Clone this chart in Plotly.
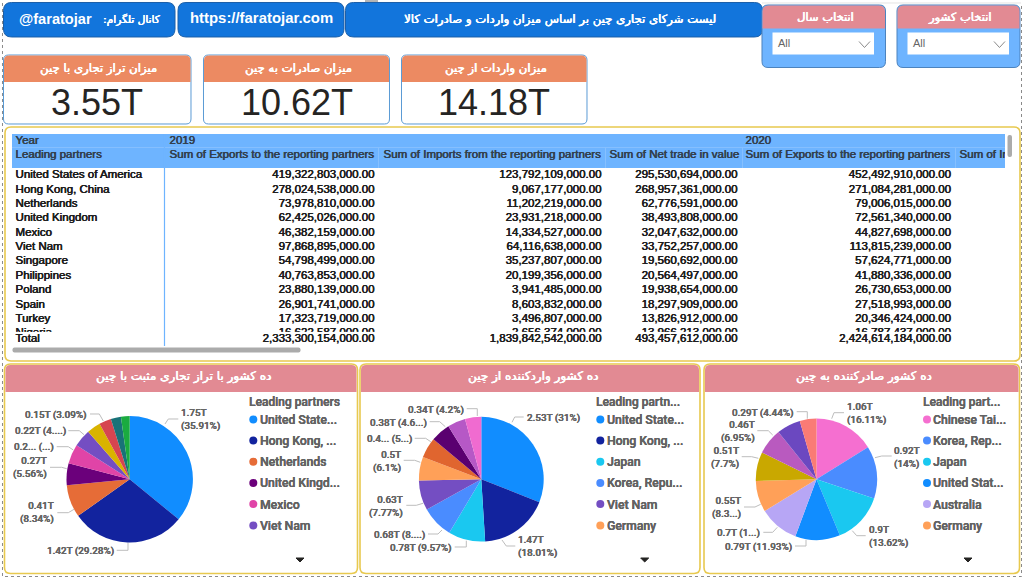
import plotly.graph_objects as go

# ---------- data ----------
years = ["2019", "2020"]
partners = ["United States of America", "Hong Kong, China", "Netherlands", "United Kingdom", "Mexico",
            "Viet Nam", "Singapore", "Philippines", "Poland", "Spain", "Turkey", "Nigeria"]
exports_2019 = ["419,322,803,000.00", "278,024,538,000.00", "73,978,810,000.00", "62,425,026,000.00",
                "46,382,159,000.00", "97,868,895,000.00", "54,798,499,000.00", "40,763,853,000.00",
                "23,880,139,000.00", "26,901,741,000.00", "17,323,719,000.00", "16,622,587,000.00"]
imports_2019 = ["123,792,109,000.00", "9,067,177,000.00", "11,202,219,000.00", "23,931,218,000.00",
                "14,334,527,000.00", "64,116,638,000.00", "35,237,807,000.00", "20,199,356,000.00",
                "3,941,485,000.00", "8,603,832,000.00", "3,496,807,000.00", "2,656,374,000.00"]
net_2019 = ["295,530,694,000.00", "268,957,361,000.00", "62,776,591,000.00", "38,493,808,000.00",
            "32,047,632,000.00", "33,752,257,000.00", "19,560,692,000.00", "20,564,497,000.00",
            "19,938,654,000.00", "18,297,909,000.00", "13,826,912,000.00", "13,966,213,000.00"]
exports_2020 = ["452,492,910,000.00", "271,084,281,000.00", "79,006,015,000.00", "72,561,340,000.00",
                "44,827,698,000.00", "113,815,239,000.00", "57,624,771,000.00", "41,880,336,000.00",
                "26,730,653,000.00", "27,518,993,000.00", "20,346,424,000.00", "16,787,437,000.00"]
totals = ["2,333,300,154,000.00", "1,839,842,542,000.00", "493,457,612,000.00", "2,424,614,184,000.00"]
col_heads = ["Sum of Exports to the reporting partners", "Sum of Imports from the reporting partners",
             "Sum of Net trade in value", "Sum of Exports to the reporting partners", "Sum of Im"]

kpi_values = ["3.55T", "10.62T", "14.18T"]
kpi_titles = ["میزان تراز تجاری با چین", "میزان صادرات به چین", "میزان واردات از چین"]

net_names = ["United States of America", "Hong Kong, China", "Netherlands", "United Kingdom", "Mexico",
             "Viet Nam", "Singapore", "Philippines", "Poland", "Spain"]
net_share = [35.91, 29.28, 8.34, 5.56, 5.0, 4.5, 3.5, 3.09, 2.6, 2.22]
imp_names = ["United States of America", "Hong Kong, China", "Japan", "Korea, Republic of", "Viet Nam",
             "Germany", "Netherlands", "United Kingdom", "India", "Singapore"]
imp_share = [31.0, 18.01, 9.57, 8.33, 7.77, 6.1, 5.3, 5.06, 4.66, 4.2]
exp_names = ["Chinese Taipei", "Korea, Republic of", "Japan", "United States of America", "Australia",
             "Germany", "Brazil", "Malaysia", "Viet Nam", "Russian Federation"]
exp_share = [16.11, 14.0, 13.62, 11.93, 10.6, 8.3, 7.7, 6.95, 6.35, 4.44]

net_colors = ["#118DFF", "#12239E", "#E66C37", "#6B007B", "#E044A7", "#744EC2", "#D9B300", "#D64550", "#197278", "#1AAB40"]
imp_colors = ["#118DFF", "#12239E", "#1AC8F0", "#4A8CFF", "#744EC2", "#FFA058", "#E0652F", "#5A0070", "#B658C6", "#F06BD0"]
exp_colors = ["#F56FD0", "#4A8CFF", "#1AC8F0", "#118DFF", "#B7A6F5", "#FFA058", "#C9A800", "#B95ABF", "#6B48C0", "#FA7B75"]

net_legend = ["United State...", "Hong Kong, ...", "Netherlands", "United Kingd...", "Mexico", "Viet Nam"]
imp_legend = ["United State...", "Hong Kong, ...", "Japan", "Korea, Repu...", "Viet Nam", "Germany"]
exp_legend = ["Chinese Tai...", "Korea, Rep...", "Japan", "United Stat...", "Australia", "Germany"]

# ---------- layout helpers ----------
W, H = 1024, 580
AR = "DejaVu Sans"
LAT = "Liberation Sans"
UI = "Roboto"
def X(p): return p / W
def Y(p): return 1 - p / H
shapes, annots = [], []

def faux(color, dx=0.35):
    return f"{dx}px 0 0 {color}, -{dx / 2}px 0 0.2px {color}"

def rrect(x0, y0, x1, y1, r, fill, line=None, lw=1, corners="tl tr br bl"):
    c = corners.split()
    rt = lambda k: r if k in c else 0
    a, b, e, d = rt("tl"), rt("tr"), rt("br"), rt("bl")
    P = lambda x, y: f"{X(x):.5f},{Y(y):.5f}"
    path = (f"M{P(x0 + a, y0)} L{P(x1 - b, y0)} Q{P(x1, y0)} {P(x1, y0 + b)} L{P(x1, y1 - e)} "
            f"Q{P(x1, y1)} {P(x1 - e, y1)} L{P(x0 + d, y1)} Q{P(x0, y1)} {P(x0, y1 - d)} "
            f"L{P(x0, y0 + a)} Q{P(x0, y0)} {P(x0 + a, y0)} Z")
    shapes.append(dict(type="path", xref="paper", yref="paper", path=path, fillcolor=fill,
                       line=dict(color=line or "rgba(0,0,0,0)", width=lw if line else 0), layer="below"))

def rect(x0, y0, x1, y1, fill):
    shapes.append(dict(type="rect", xref="paper", yref="paper", x0=X(x0), x1=X(x1), y0=Y(y1), y1=Y(y0),
                       fillcolor=fill, line=dict(width=0), layer="below"))

def seg(pts, color="#BDBDBD", w=1, dash="solid"):
    path = "M" + " L".join(f"{X(a):.5f},{Y(b):.5f}" for a, b in pts)
    shapes.append(dict(type="path", xref="paper", yref="paper", path=path,
                       line=dict(color=color, width=w, dash=dash), layer="below"))

def txt(x, y, s, size, color="#FFFFFF", fam=AR, anchor="center", bold=False, align=None, w=None, shadow=None):
    f = dict(size=size, color=color, family=fam)
    if w: f["weight"] = w
    elif bold: f["weight"] = 700
    if shadow: f["shadow"] = shadow
    annots.append(dict(x=X(x), y=Y(y), xref="paper", yref="paper", text=s, showarrow=False, xanchor=anchor,
                       yanchor="middle", font=f, align=align or anchor, borderpad=0, borderwidth=0))

def ar(x, y, s, size, anchor="center"):
    txt(x, y, s, size, "#FFFFFF", AR, anchor, shadow=faux("#FFFFFF", 0.4))

# outer dotted frame and stub at the top
seg([(2.5, 3), (2.5, 576.5), (1021.5, 576.5), (1021.5, 3)], "#8A8A8A", 1, "dot")
seg([(762, 3), (1021, 3)], "#E4E4E4", 1)
rect(365, 0, 378, 2, "#B5B5B5")

# top buttons
BTN, BTN_L = "#1275DC", "#1B5FA8"
for x0, x1 in [(3.5, 175), (178, 344), (345.5, 762.5)]:
    rrect(x0, 2.5, x1, 37, 8, BTN, BTN_L, 1)
txt(19, 18.5, "@faratojar", 14.6, bold=True, fam=LAT, anchor="left")
ar(160.5, 19, ":کانال تلگرام", 10.6, "right")
txt(261.5, 18, "https://faratojar.com", 14.9, bold=True, fam=LAT)
ar(559.5, 19, "لیست شرکای تجاری چین بر اساس میزان واردات و صادرات کالا", 11.7)

# slicers
for x0, x1, t in [(762, 885.5, "انتخاب سال"), (897, 1020, "انتخاب کشور")]:
    rrect(x0, 5, x1, 67.5, 6, "#6EB4FF", "#4C83BE", 1)
    rrect(x0 + .5, 5.5, x1 - .5, 28.5, 6, "#E28A93", None, corners="tl tr")
    rect(x0 + 10.5, 32.5, x0 + 112, 54.5, "#FFFFFF")
    ar((x0 + x1) / 2 + 1.5, 17, t, 11.5)
    txt(x0 + 15.5, 43.5, "All", 11, "#666666", LAT, "left")
    seg([(x0 + 97, 41.5), (x0 + 102.5, 47.5), (x0 + 108, 41.5)], "#8A8A8A", 1)

# KPI cards
for (x0, x1), t, v in zip([(3.5, 191), (203.5, 389.5), (401.5, 587)], kpi_titles, kpi_values):
    rrect(x0, 55, x1, 124, 5, "#FFFFFF", "#5B9BD5", 1)
    rrect(x0 + .5, 55.5, x1 - .5, 82, 5, "#EC8A62", None, corners="tl tr")
    ar((x0 + x1) / 2 + 1.5, 68.5, t, 11.7)
    txt((x0 + x1) / 2, 103, v, 36, "#252423", LAT)

# table frame and header
rrect(5, 127, 1020, 361, 6, "#FFFFFF", "#E8C94F", 1.6)
rect(12, 134, 1005, 168, "#6EB4FF")
seg([(12, 147.5), (1005, 147.5)], "#86C0FF", 1)
seg([(164.5, 134), (164.5, 346)], "#6EB4FF", 1.2)
for dx in [378.5, 605.5, 742.5, 955.5]:
    seg([(dx, 147.5), (dx, 168)], "#86C0FF", 1)
rrect(12.5, 347.5, 300.5, 352.5, 2, "#ABABAB")
rrect(1007.5, 135, 1012, 157, 2, "#ABABAB")

# dashboard panels
panels = [(4.5, 357.5, "ده کشور با تراز تجاری مثبت با چین"),
          (360, 700, "ده کشور واردکننده از چین"),
          (704, 1019.5, "ده کشور صادرکننده به چین")]
for x0, x1, t in panels:
    rrect(x0, 364, x1, 573.5, 6, "#FFFFFF", "#E8C94F", 1.6)
    rrect(x0 + 1, 365, x1 - 1, 392, 5, "#E28A93", None, corners="tl tr")
    ar((x0 + x1) / 2 + 2.5, 376, t, 12)

fig = go.Figure()

# table as text traces, clipped by their own axes
col_left = [169.5, 383.5, 609.5, 745.5, 959.5]
col_right = [374.5, 601.5, 737.5, 951]
row_pitch = 14.37
row_first = 175.4
rows = [row_first + i * row_pitch for i in range(len(partners))]
T_FONT = dict(family=LAT, size=11.5, color="#1E1E1E", shadow=faux("#1E1E1E"))
H_FONT = dict(family=LAT, size=11.5, color="#33414F", shadow=faux("#33414F"))

def ttrace(x, y, t, pos, yax, font):
    fig.add_trace(go.Scatter(x=x, y=y, text=t, mode="text", textposition=pos, textfont=font,
                             hoverinfo="skip", showlegend=False, cliponaxis=True, xaxis="x", yaxis=yax))

ttrace([15.5] * len(partners), rows, partners, "middle right", "y", T_FONT)
for xr, col in zip(col_right, [exports_2019, imports_2019, net_2019, exports_2020]):
    ttrace([xr] * len(col), rows, col, "middle left", "y", T_FONT)
ttrace([15.5, col_left[0], col_left[3]], [141.6] * 3, ["Year"] + years, "middle right", "y2", H_FONT)
ttrace([15.5] + col_left, [155] * 6, ["Leading partners"] + col_heads, "middle right", "y2", H_FONT)
ttrace([15.5], [339.3], ["Total"], "middle right", "y3", T_FONT)
ttrace(col_right, [339.3] * 4, totals, "middle left", "y3", T_FONT)

# pies
pies = [
    (129.7, 479.3, 63.2, net_names, net_share, net_colors),
    (481.3, 479.2, 62.4, imp_names, imp_share, imp_colors),
    (816.5, 479.3, 60.7, exp_names, exp_share, exp_colors),
]
for cx, cy, r, names, vals, cols in pies:
    fig.add_trace(go.Pie(labels=names, values=vals, sort=False, direction="clockwise", rotation=0,
                         textinfo="none", hoverinfo="label+percent", showlegend=False,
                         marker=dict(colors=cols, line=dict(width=0)),
                         domain=dict(x=[X(cx - r), X(cx + r)], y=[Y(cy + r), Y(cy - r)])))

# legends
legends = [
    (248.7, 253.3, 259.7, "Leading partners", net_legend, net_colors, 300),
    (595.7, 600.3, 606.7, "Leading partn...", imp_legend, imp_colors, 644.7),
    (922.7, 927, 933.3, "Leading part...", exp_legend, exp_colors, 968),
]
leg_rows = [419.9, 441, 462.2, 483.3, 504.5, 525.8]
GREY = "#636363"
for xt, xm, xl, title, items, cols, xa in legends:
    txt(xt, 401.8, title, 12, GREY, UI, "left", w=500, shadow=faux(GREY, 0.15))
    for ly, it, c in zip(leg_rows, items, cols):
        shapes.append(dict(type="circle", xref="paper", yref="paper", x0=X(xm - 4), x1=X(xm + 4),
                           y0=Y(ly + 3.6), y1=Y(ly - 4.4), fillcolor=c, line=dict(width=0), layer="below"))
        txt(xl, ly, it, 12.2, GREY, UI, "left", w=500, shadow=faux(GREY, 0.15))
    seg([(xa - 4, 558), (xa + 4, 558), (xa, 562), (xa - 4, 558)], "#252423", 1)
    shapes[-1]["fillcolor"] = "#252423"

# pie data labels: (text, anchor, x, y, leader points)
pie_labels = [
    ("1.75T<br>(35.91%)", "left", 181, 419.8, [(165, 424), (168.3, 419), (178.3, 419)]),
    ("0.15T (3.09%)", "right", 87, 415, [(90, 414), (99.3, 414), (103.3, 421)]),
    ("0.22T (4....)", "right", 66, 431, [(68.3, 430.7), (79.3, 430.7), (84, 434.7)]),
    ("0.2... (...)", "right", 54, 447.3, [(56.7, 446.7), (68.3, 446.7), (73.3, 450)]),
    ("0.27T<br>(5.56%)", "right", 47.3, 468, [(50, 467.3), (61.7, 467.3), (66.7, 468.7)]),
    ("0.41T<br>(8.34%)", "right", 54.3, 512.7, [(57.3, 512.7), (68.3, 512.7), (74, 509.3)]),
    ("1.42T (29.28%)", "right", 114, 550.7, [(116.7, 550.3), (128, 550.3), (128, 542.7)]),
    ("2.53T (31%)", "left", 527, 418, [(512, 422.3), (514.7, 417), (523.7, 417)]),
    ("1.47T<br>(18.01%)", "left", 518.3, 546.2, [(502, 540), (506.3, 546), (515.3, 546)]),
    ("0.78T (9.57%)", "right", 451.7, 548, [(454.7, 547), (466.3, 547), (466.3, 540.7)]),
    ("0.68T (8....)", "right", 424.7, 535, [(428, 534), (438, 534), (442, 530)]),
    ("0.63T<br>(7.77%)", "right", 403, 506, [(406.3, 505.3), (416.3, 505.3), (423, 503.3)]),
    ("0.5T<br>(6.1%)", "right", 401, 461.4, [(403.7, 460.3), (414.7, 460.3), (420.3, 462.3)]),
    ("0.4... (5...)", "right", 412, 438.7, [(414.7, 438.3), (425.7, 438.3), (430.7, 441.7)]),
    ("0.38T (4.6...)", "right", 427.3, 422.7, [(429.7, 421.7), (439.7, 421.7), (445.3, 426.7)]),
    ("0.34T (4.2%)", "right", 463.7, 409.7, [(466.7, 408.7), (477.3, 408.7), (477.3, 416)]),
    ("1.06T<br>(16.11%)", "left", 846.7, 413.7, [(831.7, 418.7), (834, 412.7), (844, 412.7)]),
    ("0.92T<br>(14%)", "left", 894, 457.2, [(875, 457.7), (881.7, 456), (891.7, 456)]),
    ("0.9T<br>(13.62%)", "left", 868.7, 536.4, [(852.3, 530.7), (856.7, 535.7), (865.7, 535.7)]),
    ("0.79T (11.93%)", "right", 792, 547.3, [(795, 546), (806, 546), (806, 540)]),
    ("0.7T (1...)", "right", 760, 533.3, [(763.3, 532.3), (772.7, 532.3), (777.3, 527.3)]),
    ("0.55T<br>(8.3...)", "right", 741, 507.5, [(744, 507), (755, 507), (760.7, 504.3)]),
    ("0.51T<br>(7.7%)", "right", 739, 457.2, [(741.7, 456.7), (751.7, 456.7), (758.3, 458.3)]),
    ("0.46T<br>(6.95%)", "right", 755.3, 431.7, [(757.3, 430.7), (768.3, 430.7), (772.7, 435)]),
    ("0.29T (4.44%)", "right", 794, 412.7, [(796.7, 411.7), (807.3, 411.7), (807.3, 418.7)]),
]
for s, anc, x, y, pts in pie_labels:
    txt(x, y, s, 9.9, "#666666", UI, anc, w=500, shadow=faux("#666666", 0.12))
    seg(pts, "#BDBDBD", 1)

fig.update_layout(
    width=W, height=H, margin=dict(l=0, r=0, t=0, b=0), autosize=False,
    paper_bgcolor="#FFFFFF", plot_bgcolor="rgba(0,0,0,0)", showlegend=False,
    shapes=shapes, annotations=annots,
    xaxis=dict(visible=False, fixedrange=True, domain=[X(12), X(1005)], range=[12, 1005], anchor="y"),
    yaxis=dict(visible=False, fixedrange=True, domain=[Y(331.7), Y(168)], range=[331.7, 168], anchor="x"),
    yaxis2=dict(visible=False, fixedrange=True, domain=[Y(168), Y(134)], range=[168, 134], anchor="x"),
    yaxis3=dict(visible=False, fixedrange=True, domain=[Y(347), Y(331.7)], range=[347, 331.7], anchor="x"),
)
fig.write_html("out.html", config=dict(displayModeBar=False),
               post_script="document.body.style.margin='0';")
